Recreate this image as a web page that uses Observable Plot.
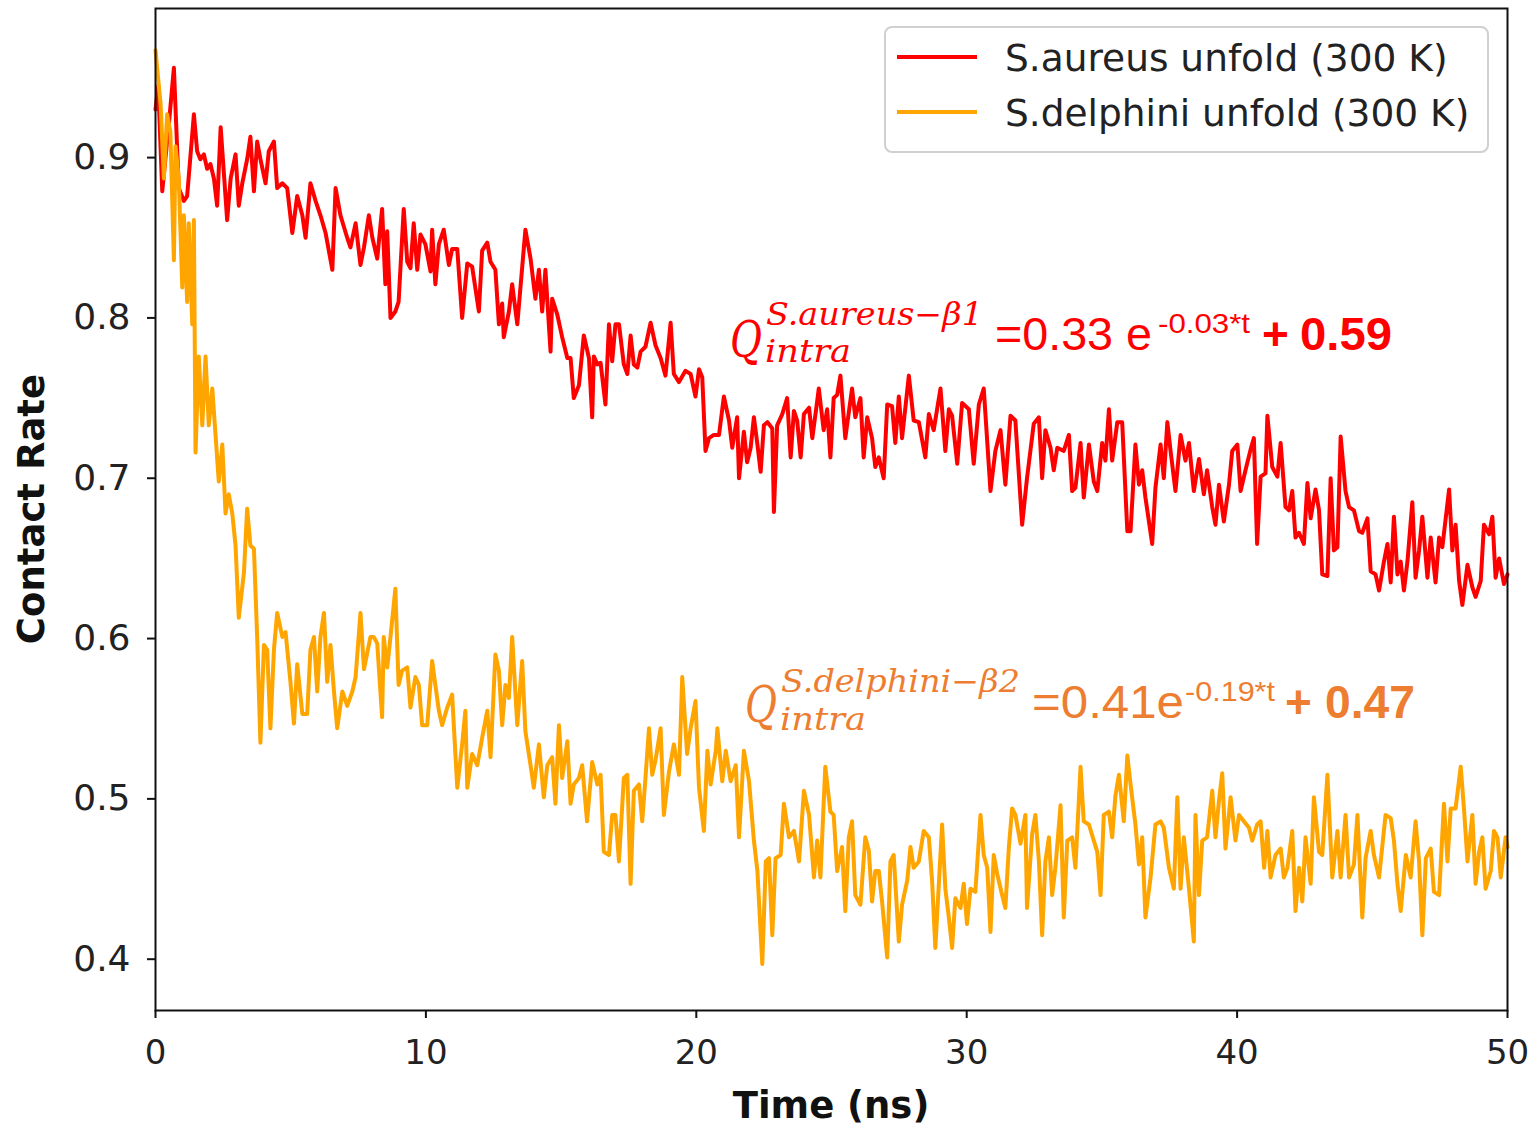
<!DOCTYPE html>
<html><head><meta charset="utf-8">
<script src="https://cdn.jsdelivr.net/npm/d3@7"></script>
<script src="https://cdn.jsdelivr.net/npm/@observablehq/plot@0.6"></script>
<style>
html,body{margin:0;padding:0;background:#fff;}
#chart{width:1529px;height:1128px;}
</style></head><body><div id="chart"></div>
<script>
// ---------- data ----------
const seriesNames = ["S.aureus unfold (300 K)", "S.delphini unfold (300 K)"];
const seriesColors = ["#ff0000", "#ffa500"];
const xTicks = [0, 10, 20, 30, 40, 50];
const yTicks = [0.4, 0.5, 0.6, 0.7, 0.8, 0.9];

const redTime = [0,0.1,0.25,0.37,0.49,0.68,0.86,1.05,1.17,1.42,1.54,1.66,1.79,1.91,2.03,2.16,2.28,2.41,2.53,2.65,2.78,2.96,3.08,3.21,3.39,3.51,3.64,3.76,3.88,4.07,4.19,4.38,4.5,4.69,4.87,5.06,5.24,5.43,5.55,5.73,5.92,6.1,6.29,6.54,6.66,6.84,7.09,7.21,7.4,7.58,7.71,7.89,
8.02,8.2,8.38,8.5,8.57,8.69,8.87,8.99,9.18,9.31,9.43,9.55,9.68,9.8,9.98,10.17,10.23,10.35,10.48,10.66,10.85,10.97,11.16,11.34,11.53,11.71,11.96,12.08,12.27,12.39,12.57,12.7,12.82,12.88,13.07,13.19,13.38,13.68,13.87,14.05,14.18,14.3,14.42,14.61,14.67,14.86,15.04,15.23,15.35,15.47,15.66,15.84,16.03,16.15,
16.21,16.34,16.46,16.64,16.77,16.89,17.01,17.14,17.32,17.45,17.57,17.69,17.82,17.94,18.12,18.31,18.49,18.68,18.86,19.05,19.17,19.36,19.6,19.79,19.97,20.1,20.22,20.34,20.47,20.65,20.84,21.02,21.21,21.33,21.51,21.58,21.76,21.88,22.01,22.13,22.26,22.38,22.5,22.63,22.81,22.87,22.99,23.18,23.36,23.49,23.61,23.73,23.86,23.98,24.17,24.29,24.47,
24.53,24.71,24.84,24.96,25.08,25.21,25.33,25.51,25.76,25.88,26.07,26.19,26.32,26.5,26.62,26.75,26.93,27.06,27.24,27.36,27.49,27.61,27.86,28.04,28.23,28.47,28.6,28.78,29.03,29.21,29.34,29.46,29.65,29.83,30.08,30.26,30.45,30.63,30.88,31.06,31.25,31.43,31.62,31.8,32.05,32.23,32.48,
32.67,32.79,32.91,33.1,33.22,33.35,33.59,33.78,33.9,34.02,34.21,34.33,34.52,34.7,34.83,35.01,35.13,35.26,35.38,35.57,35.75,35.94,36.06,36.24,36.37,36.49,36.61,36.86,36.98,37.17,37.29,37.42,37.54,37.72,37.91,38.09,38.22,38.4,38.59,38.77,38.89,39.08,39.2,39.33,39.51,39.7,39.82,40.01,40.13,40.31,40.5,40.62,40.74,40.87,41.05,
41.12,41.3,41.49,41.61,41.79,41.92,42.04,42.16,42.29,42.47,42.6,42.72,42.9,43.03,43.15,43.34,43.46,43.58,43.71,43.83,44.01,44.14,44.32,44.51,44.63,44.82,44.94,45.12,45.25,45.43,45.56,45.68,45.8,45.93,46.05,46.17,46.3,46.48,46.6,46.73,46.85,47.04,47.16,47.34,47.47,47.59,47.84,47.96,48.08,48.21,48.33,48.52,48.7,48.82,49.01,49.13,49.32,49.44,49.56,49.69,49.87,50];
const redRate = [0.93,0.945,0.879,0.9,0.92,0.956,0.881,0.873,0.876,0.927,0.904,0.899,0.902,0.893,0.896,0.887,0.87,0.919,0.89,0.861,0.887,0.902,0.87,0.884,0.899,0.913,0.879,0.91,0.899,0.884,0.904,0.91,0.881,0.884,0.881,0.853,0.876,0.864,0.85,0.884,0.873,0.864,0.853,0.83,0.881,0.864,0.85,0.844,0.859,0.833,0.844,0.864,
0.85,0.837,0.868,0.821,0.854,0.8,0.804,0.81,0.868,0.835,0.831,0.859,0.83,0.852,0.846,0.829,0.855,0.821,0.846,0.855,0.833,0.843,0.843,0.8,0.834,0.832,0.804,0.842,0.847,0.835,0.83,0.796,0.809,0.788,0.804,0.821,0.796,0.855,0.837,0.812,0.83,0.804,0.83,0.779,0.812,0.802,0.788,0.775,0.775,0.75,0.758,0.789,0.775,0.738,
0.776,0.771,0.772,0.746,0.796,0.773,0.796,0.796,0.771,0.765,0.789,0.771,0.769,0.779,0.782,0.797,0.783,0.775,0.764,0.797,0.765,0.76,0.767,0.765,0.751,0.768,0.763,0.717,0.725,0.727,0.727,0.751,0.736,0.719,0.738,0.7,0.729,0.71,0.719,0.738,0.721,0.704,0.733,0.735,0.731,0.679,0.733,0.74,0.75,0.713,0.742,0.736,0.713,0.74,0.744,0.725,0.748,
0.756,0.73,0.743,0.713,0.75,0.752,0.764,0.725,0.756,0.738,0.75,0.713,0.738,0.725,0.707,0.713,0.7,0.746,0.745,0.722,0.751,0.725,0.764,0.736,0.735,0.713,0.74,0.73,0.756,0.717,0.743,0.739,0.709,0.747,0.743,0.709,0.746,0.756,0.692,0.717,0.73,0.696,0.739,0.736,0.671,0.7,0.734,
0.738,0.7,0.73,0.719,0.705,0.719,0.717,0.727,0.692,0.694,0.722,0.688,0.721,0.698,0.692,0.722,0.711,0.743,0.711,0.735,0.735,0.667,0.667,0.721,0.696,0.705,0.688,0.659,0.694,0.721,0.7,0.735,0.717,0.692,0.727,0.711,0.722,0.692,0.712,0.69,0.705,0.682,0.671,0.696,0.673,0.696,0.717,0.721,0.692,0.705,0.718,0.725,0.659,0.701,0.703,
0.739,0.707,0.701,0.722,0.682,0.68,0.692,0.663,0.666,0.659,0.697,0.675,0.693,0.68,0.64,0.639,0.7,0.655,0.657,0.726,0.692,0.682,0.68,0.667,0.666,0.675,0.642,0.64,0.63,0.648,0.659,0.635,0.676,0.64,0.648,0.63,0.648,0.685,0.638,0.655,0.676,0.638,0.663,0.635,0.663,0.657,0.693,0.655,0.671,0.636,0.621,0.646,0.632,0.626,0.636,0.671,0.665,0.676,0.638,0.65,0.634,0.64];

const orangeTime = [0,0.06,0.19,0.31,0.43,0.55,0.68,0.74,0.86,0.99,1.05,1.17,1.23,1.36,1.42,1.48,1.6,1.73,1.85,1.97,2.1,2.22,2.34,2.47,2.59,2.71,2.84,2.96,3.08,3.27,3.39,3.51,3.64,3.76,3.88,4.01,4.13,4.25,4.38,4.5,4.69,4.81,4.99,5.12,5.24,5.43,5.61,5.73,5.86,5.98,6.1,6.23,6.35,6.47,6.6,6.72,6.91,7.09,7.28,7.4,7.58,7.71,7.95,
8.07,8.2,8.38,8.44,8.57,8.69,8.87,8.99,9.12,9.31,9.43,9.61,9.74,9.86,10.05,10.23,10.35,10.48,10.6,10.79,10.97,11.16,11.34,11.46,11.53,11.71,11.9,12.08,12.27,12.39,12.57,12.7,12.82,12.94,13.07,13.19,13.38,13.56,13.68,13.87,13.99,14.18,14.36,14.49,14.67,14.79,14.92,15.04,15.23,15.35,15.47,15.66,15.78,15.96,16.15,
16.34,16.46,16.58,16.77,16.89,17.01,17.14,17.32,17.45,17.57,17.69,17.88,18,18.12,18.25,18.37,18.49,18.68,18.8,18.99,19.17,19.36,19.48,19.66,19.79,19.97,20.1,20.28,20.41,20.53,20.72,20.78,20.96,21.09,21.27,21.46,21.58,21.76,21.95,22.13,22.26,22.44,22.57,22.69,22.81,22.93,23.12,23.24,23.43,23.61,23.8,23.98,24.17,24.35,
24.47,24.59,24.77,24.96,25.08,25.21,25.39,25.51,25.64,25.76,25.88,26.07,26.25,26.38,26.5,26.62,26.75,26.87,27.06,27.18,27.3,27.49,27.61,27.8,27.92,28.04,28.23,28.41,28.6,28.72,28.84,28.97,29.09,29.21,29.34,29.46,29.58,29.77,29.89,30.01,30.14,30.32,30.51,30.63,30.76,30.88,31,31.13,31.31,31.43,31.56,31.68,31.8,31.99,32.17,32.23,
32.42,32.54,32.67,32.79,32.91,33.04,33.16,33.28,33.47,33.59,33.72,33.9,34.02,34.21,34.33,34.52,34.7,34.83,34.95,35.07,35.26,35.38,35.5,35.63,35.81,35.94,36.06,36.24,36.37,36.49,36.61,36.8,36.98,37.17,37.29,37.48,37.66,37.79,37.91,38.03,38.22,38.4,38.46,38.59,38.71,38.89,39.08,39.2,39.33,39.45,39.57,39.76,39.94,40.07,40.25,40.44,40.56,40.74,
40.87,41,41.12,41.24,41.42,41.61,41.73,41.86,42.04,42.16,42.29,42.41,42.53,42.72,42.84,43.03,43.15,43.34,43.52,43.71,43.83,44.01,44.14,44.32,44.45,44.63,44.75,44.94,45.06,45.25,45.49,45.68,45.8,45.93,46.05,46.24,46.42,46.6,46.73,46.85,46.98,47.16,47.28,47.47,47.65,47.78,47.9,48.08,48.27,48.39,48.52,48.7,48.82,48.95,49.07,49.19,49.38,49.5,49.63,49.75,49.93,50];
const orangeRate = [0.967,0.956,0.933,0.887,0.927,0.916,0.836,0.907,0.887,0.819,0.864,0.81,0.859,0.796,0.861,0.716,0.776,0.733,0.776,0.733,0.756,0.727,0.698,0.721,0.678,0.69,0.678,0.658,0.613,0.641,0.681,0.658,0.656,0.601,0.535,0.596,0.593,0.544,0.593,0.616,0.601,0.604,0.573,0.547,0.584,0.553,0.553,0.593,0.601,0.567,0.601,0.616,0.573,0.596,0.567,0.544,0.567,0.558,0.567,0.576,0.616,0.581,0.601,
0.601,0.597,0.551,0.601,0.582,0.601,0.631,0.571,0.58,0.582,0.557,0.576,0.571,0.546,0.546,0.586,0.571,0.555,0.546,0.557,0.565,0.507,0.534,0.555,0.507,0.528,0.521,0.538,0.555,0.526,0.59,0.58,0.546,0.571,0.563,0.601,0.546,0.586,0.542,0.521,0.507,0.534,0.501,0.521,0.526,0.497,0.546,0.513,0.536,0.497,0.509,0.513,0.521,0.486,0.523,
0.509,0.515,0.467,0.465,0.49,0.49,0.461,0.513,0.515,0.447,0.505,0.509,0.486,0.513,0.544,0.515,0.524,0.544,0.49,0.517,0.534,0.515,0.576,0.528,0.544,0.561,0.507,0.48,0.53,0.509,0.53,0.544,0.511,0.53,0.511,0.521,0.476,0.53,0.511,0.474,0.455,0.397,0.461,0.463,0.415,0.463,0.465,0.497,0.476,0.48,0.461,0.505,0.49,0.451,
0.474,0.451,0.52,0.492,0.49,0.455,0.47,0.43,0.476,0.486,0.44,0.434,0.476,0.468,0.436,0.455,0.455,0.436,0.401,0.461,0.465,0.411,0.434,0.449,0.47,0.457,0.461,0.48,0.476,0.449,0.407,0.447,0.484,0.444,0.426,0.407,0.438,0.432,0.447,0.422,0.444,0.442,0.49,0.465,0.457,0.417,0.465,0.453,0.44,0.432,0.47,0.494,0.49,0.472,0.49,0.432,
0.478,0.49,0.461,0.415,0.461,0.476,0.44,0.457,0.496,0.426,0.474,0.476,0.457,0.52,0.486,0.484,0.474,0.467,0.44,0.49,0.492,0.476,0.502,0.515,0.486,0.527,0.509,0.484,0.459,0.476,0.426,0.451,0.484,0.486,0.482,0.457,0.444,0.501,0.444,0.476,0.444,0.411,0.49,0.44,0.474,0.476,0.505,0.476,0.499,0.516,0.469,0.501,0.474,0.49,0.486,0.482,0.474,0.484,
0.486,0.457,0.48,0.451,0.465,0.469,0.451,0.457,0.48,0.43,0.457,0.436,0.476,0.447,0.501,0.467,0.465,0.515,0.451,0.48,0.451,0.49,0.451,0.459,0.49,0.426,0.463,0.48,0.465,0.451,0.49,0.488,0.474,0.447,0.43,0.465,0.451,0.486,0.461,0.415,0.463,0.469,0.442,0.44,0.497,0.461,0.494,0.494,0.52,0.494,0.461,0.49,0.447,0.467,0.476,0.444,0.455,0.48,0.476,0.451,0.476,0.47];

// ---------- build table ----------
const rows = [
  ...redTime.map((t, i) => ({t, v: redRate[i], s: seriesNames[0]})),
  ...orangeTime.map((t, i) => ({t, v: orangeRate[i], s: seriesNames[1]}))
];

const W = 1529, H = 1128;
const M = {left: 155, right: 22, top: 8, bottom: 118};

const plot = Plot.plot({
  width: W, height: H,
  marginLeft: M.left, marginRight: M.right, marginTop: M.top, marginBottom: M.bottom,
  style: {fontFamily: "DejaVu Sans, sans-serif", fontSize: "36px", color: "#222", background: "#fff"},
  x: {domain: [0, 50]},
  y: {domain: [0.368, 0.993]},
  color: {domain: seriesNames, range: seriesColors},
  marks: [
    Plot.line(rows, {x: "t", y: "v", z: "s", stroke: "s", strokeWidth: 4, strokeLinejoin: "round"}),
    Plot.frame({stroke: "#111", strokeWidth: 2}),
    Plot.axisX({ticks: xTicks, tickSize: 8, tickPadding: 21, label: null, fontSize: 34, strokeWidth: 2, stroke: "#111"}),
    Plot.axisY({ticks: yTicks, tickSize: 8, tickPadding: 17, tickFormat: d => d.toFixed(1), label: null, fontSize: 36, strokeWidth: 2, stroke: "#111"})
  ]
});
document.getElementById("chart").appendChild(plot);

const svg = d3.select(plot);
const xs = plot.scale("x");
const x0 = xs.range[0], x1 = xs.range[1];
const yTop = M.top, yBot = H - M.bottom;

// axis labels
svg.append("text").attr("x", (x0 + x1) / 2).attr("y", 1118).attr("text-anchor", "middle")
  .attr("font-family", "DejaVu Sans").attr("font-weight", "bold").attr("font-size", 37).attr("fill", "#111")
  .text("Time (ns)");
svg.append("text").attr("transform", `translate(44,${(yTop + yBot) / 2}) rotate(-90)`).attr("text-anchor", "middle")
  .attr("font-family", "DejaVu Sans").attr("font-weight", "bold").attr("font-size", 37).attr("fill", "#111")
  .text("Contact Rate");

// legend
const lg = svg.append("g").attr("text-anchor", "start");
lg.append("rect").attr("x", 885).attr("y", 27).attr("width", 603).attr("height", 125).attr("rx", 7)
  .attr("fill", "#fff").attr("fill-opacity", 0.85).attr("stroke", "#d0d0d0").attr("stroke-width", 2);
seriesNames.forEach((name, i) => {
  const cy = 57 + i * 55;
  lg.append("line").attr("x1", 897).attr("x2", 977).attr("y1", cy).attr("y2", cy)
    .attr("stroke", seriesColors[i]).attr("stroke-width", 4);
  lg.append("text").attr("x", 1005).attr("y", cy).attr("dy", "0.36em").attr("text-anchor", "start")
    .attr("font-family", "DejaVu Sans").attr("font-size", 37.5).attr("fill", "#222").text(name);
});

// fit annotations
function txt(g, s, x, y, opts) {
  const t = g.append("text").attr("x", x).attr("y", y).attr("text-anchor", "start").text(s)
    .attr("font-family", opts.family).attr("font-size", opts.size).attr("fill", opts.color);
  if (opts.italic) t.attr("font-style", "italic");
  if (opts.bold) t.attr("font-weight", "bold");
  if (opts.len) t.attr("textLength", opts.len).attr("lengthAdjust", "spacingAndGlyphs");
  return t;
}
const MATH = "DejaVu Serif, serif", SANS = "Liberation Sans, Arial, sans-serif";
const annotations = [
  {color: "#ff0000", q: [730, 357, 32], sup: ["S.aureus\u2212\u03B21", 766, 325, 217], sub: ["intra", 765, 362, 86],
   eq: ["=0.33 e", 995, 350, 157], exp: ["-0.03*t", 1158, 333, 92], plus: [1262, 350], val: ["0.59", 1300, 350, 92]},
  {color: "#ed7d31", q: [745, 722, 32], sup: ["S.delphini\u2212\u03B22", 781, 692, 239], sub: ["intra", 780, 730, 86],
   eq: ["=0.41e", 1032, 718, 152], exp: ["-0.19*t", 1185, 701, 90], plus: [1285, 718], val: ["0.47", 1325, 718, 90]}
];
annotations.forEach(a => {
  const g = svg.append("g").attr("text-anchor", "start");
  txt(g, "Q", a.q[0], a.q[1], {family: MATH, size: 50, color: a.color, italic: true, len: a.q[2]});
  txt(g, a.sup[0], a.sup[1], a.sup[2], {family: MATH, size: 31, color: a.color, italic: true, len: a.sup[3]});
  txt(g, a.sub[0], a.sub[1], a.sub[2], {family: MATH, size: 31, color: a.color, italic: true, len: a.sub[3]});
  txt(g, a.eq[0], a.eq[1], a.eq[2], {family: SANS, size: 46, color: a.color, len: a.eq[3]});
  txt(g, a.exp[0], a.exp[1], a.exp[2], {family: SANS, size: 28, color: a.color, len: a.exp[3]});
  txt(g, "+", a.plus[0], a.plus[1], {family: SANS, size: 46, color: a.color, bold: true});
  txt(g, a.val[0], a.val[1], a.val[2], {family: SANS, size: 46, color: a.color, bold: true, len: a.val[3]});
});
</script></body></html>
